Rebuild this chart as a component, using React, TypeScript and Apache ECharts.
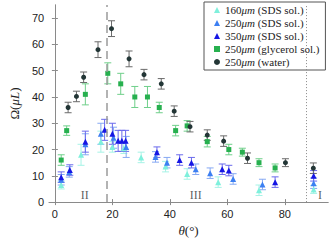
import React, { useEffect, useRef } from "react";
import * as echarts from "echarts";

const xTicks = [0, 20, 40, 60, 80];
const yTicks = [0, 10, 20, 30, 40, 50, 60, 70];

const sds160X = [2.2, 9.1, 16, 20, 24, 30, 38.5, 46, 56.8, 71, 90];
const sds160Y = [6.5, 18, 23, 21, 20.5, 17, 13.5, 10.7, 7.6, 4.5, 4.8];
const sds160E = [1.5, 4, 4, 2, 2, 2, 2, 2, 2, 2, 1.5];

const sds250X = [2.2, 5, 10.6, 16, 20.4, 24.8, 35, 39, 49, 54, 62, 72.2, 90];
const sds250Y = [8.5, 11.5, 22, 26, 24.5, 21, 17.2, 15, 12.5, 11, 8.8, 6.7, 7.2];
const sds250E = [2, 2, 4, 4, 4, 4, 2, 2, 2, 2, 2, 2, 2];

const sds350X = [2.2, 5.2, 10.6, 17.3, 20, 22, 23.3, 24.6, 35.5, 43.4, 47.5, 58.2, 60.5, 76.6, 90];
const sds350Y = [9.5, 12.2, 23, 27.5, 26, 23.3, 23.3, 23.3, 19, 16, 15, 12.5, 12, 7.6, 10];
const sds350E = [2, 2, 4, 4, 4, 4, 4, 4, 2, 2, 2, 2, 2, 2, 2];

const glyX = [2.2, 4.1, 10.6, 18.4, 22.9, 27.8, 32.2, 36.3, 42, 46, 53, 60.5, 65.2, 71, 76.6];
const glyY = [16, 27.2, 41, 49, 45, 40, 40, 36, 27.2, 29, 23, 20, 19, 15, 13];
const glyE = [2, 1.8, 4, 4, 4, 4, 4, 2, 2, 2, 2, 2, 1.5, 1.5, 1.5];

const waterX = [4.6, 7.5, 10, 15, 19.7, 25.8, 31, 37, 41.5, 47, 53, 58.7, 67, 80.2, 89.9];
const waterY = [36, 40.2, 47.5, 58, 66, 54.5, 48.5, 45, 34.6, 28.7, 25.5, 23.2, 16.7, 15, 12.9];
const waterE = [2, 2, 2, 3, 3, 3, 2, 2, 2, 2, 2, 2, 2, 1.5, 2];

const regionLabels = ["II", "III", "I"];
const regionX = [10.4, 49, 92.2];
const regionY = [2.6, 2.6, 2.6];

const dashedGuideX = 18;
const dottedGuideX = 87.5;

type S = {
  name: string;
  xs: number[];
  ys: number[];
  es: number[];
  symbol: string;
  size: number;
  color: string;
  errColor: string;
};

const seriesDefs: S[] = [
  { name: "160μm (SDS sol.)", xs: sds160X, ys: sds160Y, es: sds160E, symbol: "triangle", size: 6, color: "#7ff0dc", errColor: "#a6f3e6" },
  { name: "250μm (SDS sol.)", xs: sds250X, ys: sds250Y, es: sds250E, symbol: "triangle", size: 6, color: "#3c7ff2", errColor: "#86a9f3" },
  { name: "350μm (SDS sol.)", xs: sds350X, ys: sds350Y, es: sds350E, symbol: "triangle", size: 6, color: "#1616e4", errColor: "#6a6aec" },
  { name: "250μm (glycerol sol.)", xs: glyX, ys: glyY, es: glyE, symbol: "rect", size: 5, color: "#27b04f", errColor: "#6fcf8a" },
  { name: "250μm (water)", xs: waterX, ys: waterY, es: waterE, symbol: "circle", size: 5, color: "#233636", errColor: "#6a6a6a" },
];

const SERIF = "'Liberation Serif', 'DejaVu Serif', serif";
const SANS = "'Liberation Sans', Arial, sans-serif";
const AXIS_COLOR = "#8a8a8a";

export default function App() {
  const ref = useRef<HTMLDivElement>(null);
  useEffect(() => {
    if (!ref.current) return;
    const chart = echarts.init(ref.current, undefined, { renderer: "svg" });

    const series: any[] = [];
    seriesDefs.forEach((d) => {
      series.push({
        type: "custom",
        name: d.name + "_err",
        xAxisIndex: 0,
        yAxisIndex: 0,
        silent: true,
        data: d.xs.map((x, i) => [x, d.ys[i], d.es[i]]),
        renderItem: (params: any, api: any) => {
          const x = api.value(0);
          const y = api.value(1);
          const e = api.value(2);
          const top = api.coord([x, y + e]);
          const bot = api.coord([x, y - e]);
          const hw = 3.5;
          const style = { stroke: d.errColor, lineWidth: 1 };
          return {
            type: "group",
            children: [
              { type: "line", shape: { x1: top[0], y1: top[1], x2: bot[0], y2: bot[1] }, style },
              { type: "line", shape: { x1: top[0] - hw, y1: top[1], x2: top[0] + hw, y2: top[1] }, style },
              { type: "line", shape: { x1: bot[0] - hw, y1: bot[1], x2: bot[0] + hw, y2: bot[1] }, style },
            ],
          };
        },
      });
    });
    seriesDefs.forEach((d) => {
      series.push({
        type: "scatter",
        name: d.name,
        symbol: d.symbol,
        symbolSize: d.size,
        itemStyle: { color: d.color, opacity: 1 },
        data: d.xs.map((x, i) => [x, d.ys[i]]),
        z: 3,
      });
    });
    series.push({
      type: "scatter",
      name: "regions",
      symbolSize: 0,
      data: regionX.map((x, i) => ({ value: [x, regionY[i]], label: { formatter: regionLabels[i] } })),
      label: {
        show: true,
        position: "inside",
        fontFamily: SERIF,
        fontSize: 12,
        color: "#333",
      },
      silent: true,
      markLine: {
        silent: true,
        symbol: "none",
        label: { show: false },
        data: [
          { xAxis: dashedGuideX, lineStyle: { type: [8, 5], color: "#9a9a9a", width: 1.5 } },
          { xAxis: dottedGuideX, lineStyle: { type: [1, 2], color: "#8a8a8a", width: 1 } },
        ],
      },
    });

    const legendRich = {
      i: { fontFamily: SERIF, fontStyle: "italic", fontSize: 11, color: "#222" },
    };

    chart.setOption({
      animation: false,
      grid: { left: 32, right: 2, top: 5, bottom: 32, containLabel: false },
      legend: {
        data: seriesDefs.map((d) => ({ name: d.name, icon: d.symbol })),
        orient: "vertical",
        left: 204,
        top: 2,
        padding: [2, 6, 2, 10],
        itemGap: 1,
        itemWidth: 6,
        itemHeight: 6,
        borderColor: "#555",
        borderWidth: 1,
        backgroundColor: "#fff",
        borderRadius: 0,
        textStyle: { fontFamily: SERIF, fontSize: 11, color: "#222", lineHeight: 12, rich: legendRich },
        formatter: (name: string) => name.replace("μm", "{i|μm}"),
        selectedMode: false,
      },
      xAxis: [
        {
          type: "value",
          min: -2,
          max: 95,
          name: "{i|θ}{r|(°)}",
          nameLocation: "middle",
          nameGap: 20,
          nameTextStyle: {
            rich: {
              i: { fontFamily: SERIF, fontStyle: "italic", fontSize: 13, color: "#222" },
              r: { fontFamily: SERIF, fontSize: 13, color: "#222" },
            },
          },
          axisLine: { show: true, lineStyle: { color: AXIS_COLOR } },
          axisTick: { show: true, inside: true, length: 3, customValues: xTicks, lineStyle: { color: AXIS_COLOR } },
          axisLabel: { customValues: xTicks, fontFamily: SANS, fontSize: 11, color: "#222", margin: 6 },
          splitLine: { show: false },
        },
        {
          type: "value",
          position: "top",
          min: -2,
          max: 95,
          axisLine: { show: true, lineStyle: { color: AXIS_COLOR } },
          axisTick: { show: true, inside: true, length: 3, customValues: xTicks, lineStyle: { color: AXIS_COLOR } },
          axisLabel: { show: false },
          splitLine: { show: false },
        },
      ],
      yAxis: [
        {
          type: "value",
          min: 0,
          max: 75,
          name: "{r|Ω(}{i|μL}{r|)}",
          nameLocation: "middle",
          nameGap: 19,
          nameRotate: 90,
          nameTextStyle: {
            rich: {
              i: { fontFamily: SERIF, fontStyle: "italic", fontSize: 13, color: "#222" },
              r: { fontFamily: SERIF, fontSize: 13, color: "#222" },
            },
          },
          axisLine: { show: true, lineStyle: { color: AXIS_COLOR } },
          axisTick: { show: true, inside: true, length: 3, customValues: yTicks, lineStyle: { color: AXIS_COLOR } },
          axisLabel: { customValues: yTicks, fontFamily: SANS, fontSize: 11, color: "#222", margin: 5 },
          splitLine: { show: false },
        },
        {
          type: "value",
          position: "right",
          min: 0,
          max: 75,
          axisLine: { show: true, lineStyle: { color: AXIS_COLOR } },
          axisTick: { show: true, inside: true, length: 3, customValues: yTicks, lineStyle: { color: AXIS_COLOR } },
          axisLabel: { show: false },
          splitLine: { show: false },
        },
      ],
      series,
    });
    return () => chart.dispose();
  }, []);
  return <div ref={ref} style={{ width: 330, height: 242, position: "absolute", left: 0, top: 0 }} />;
}
